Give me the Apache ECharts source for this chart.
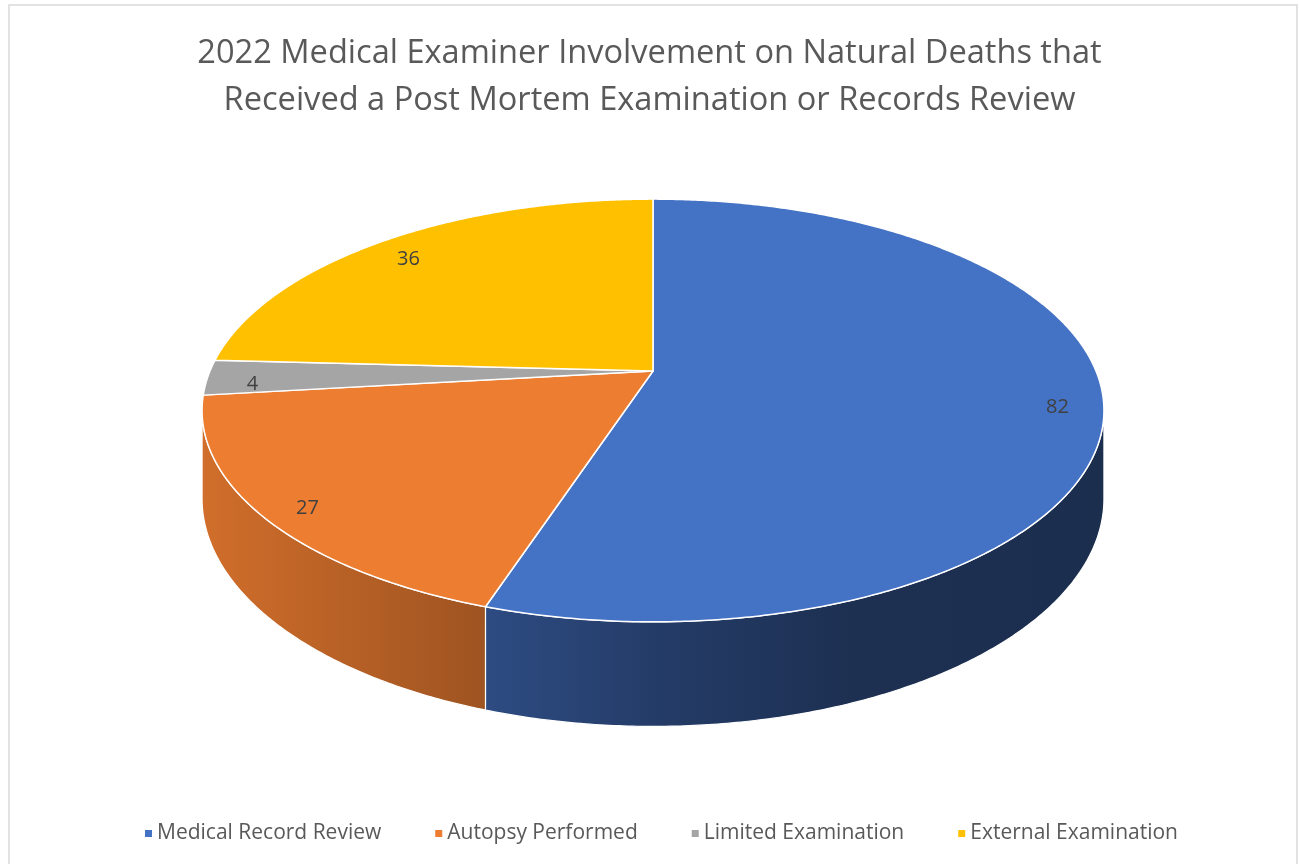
<!DOCTYPE html>
<html>
<head>
<meta charset="utf-8">
<script src="https://cdn.jsdelivr.net/npm/echarts@6/dist/echarts.min.js"></script>
<style>
html,body{margin:0;padding:0;background:#fff;}
#chart{width:1299px;height:864px;}
</style>
</head>
<body>
<div id="chart"></div>
<script>
// ---- data ----
const categories = ['Medical Record Review', 'Autopsy Performed', 'Limited Examination', 'External Examination'];
const values = [82, 27, 4, 36];
const colors = ['#4472C4', '#ED7D31', '#A5A5A5', '#FFC000'];
const titleText = '2022 Medical Examiner Involvement on Natural Deaths that\nReceived a Post Mortem Examination or Records Review';

// ---- 3D pie layout (perspective projection of a disc) ----
const CX = 653, APEX_Y = 371, RX = 443, RY = 204, K = 0.1868, DEPTH = 85;
const total = values.reduce((s, v) => s + v, 0);
function startAngle(i) { let s = 0; for (let j = 0; j < i; j++) s += values[j]; return s / total * 360; }
function proj(phiDeg, r, z) {
  const p = phiDeg * Math.PI / 180;
  const u = Math.sin(p) * r, v = -Math.cos(p) * r;
  const w = 1 - K * v;
  return [CX + RX * u / w, APEX_Y + (RY * v + z * DEPTH) / w];
}
function shade(hex, m) {
  const n = parseInt(hex.slice(1), 16);
  const r = Math.round(((n >> 16) & 255) * m), g = Math.round(((n >> 8) & 255) * m), b = Math.round((n & 255) * m);
  return 'rgb(' + r + ',' + g + ',' + b + ')';
}
const SHADE_T = [0, 0.31, 0.5, 0.72, 1];
const SHADE_M = [0.88, 0.67, 0.53, 0.42, 0.40];
const visA = Math.acos(-K) * 180 / Math.PI;
const visB = 360 - visA;

function renderSide(params, api) {
  const i = params.dataIndex;
  const a0 = startAngle(i), a1 = a0 + api.value(0) / total * 360;
  const s = Math.max(a0, visA), e = Math.min(a1, visB);
  if (e <= s) return { type: 'group', children: [] };
  const pts = [];
  const n = Math.max(2, Math.ceil((e - s) / 0.5));
  for (let k = 0; k <= n; k++) pts.push(proj(s + (e - s) * k / n, 1, 0));
  for (let k = n; k >= 0; k--) pts.push(proj(s + (e - s) * k / n, 1, 1));
  const xL = CX - RX * 1.018, xR = CX + RX * 1.018;
  const stops = SHADE_T.map((t, j) => ({ offset: t, color: shade(colors[i], SHADE_M[j]) }));
  return {
    type: 'polygon',
    shape: { points: pts },
    style: { fill: new echarts.graphic.LinearGradient(xL, 0, xR, 0, stops, true), stroke: '#ffffff', lineWidth: 1.2 }
  };
}

function makeTopRenderer(i) {
  return function (params, api) {
    const a0 = startAngle(i), a1 = a0 + api.value(0) / total * 360;
    const pts = [proj(0, 0, 0)];
    const n = Math.max(2, Math.ceil((a1 - a0) / 0.5));
    for (let k = 0; k <= n; k++) pts.push(proj(a0 + (a1 - a0) * k / n, 1, 0));
    const mid = (a0 + a1) / 2;
    const lp = proj(mid, 0.9, 0);
    return {
      type: 'group',
      children: [
        { type: 'polygon', shape: { points: pts }, style: { fill: colors[i], stroke: '#ffffff', lineWidth: 1.5, lineJoin: 'round' } },
        { type: 'text', x: lp[0], y: lp[1] + 7, style: { text: String(api.value(0)), fill: '#404040', font: '20px "Open Sans"', align: 'center', verticalAlign: 'middle' } }
      ]
    };
  };
}

const series = [{
  type: 'custom', name: '_sides', coordinateSystem: 'none', z: 1, silent: true,
  data: values, renderItem: renderSide
}];
categories.forEach((c, i) => {
  series.push({
    type: 'custom', name: c, coordinateSystem: 'none', z: 2, silent: true,
    itemStyle: { color: colors[i] },
    data: [values[i]], renderItem: makeTopRenderer(i)
  });
});

const chart = echarts.init(document.getElementById('chart'), null, { renderer: 'canvas' });
chart.setOption({
  backgroundColor: '#ffffff',
  animation: false,
  color: colors,
  title: {
    text: titleText, left: 'center', top: 25,
    textStyle: { fontFamily: 'Open Sans', fontSize: 32.6, fontWeight: 'normal', color: '#595959', lineHeight: 47 }
  },
  legend: {
    data: categories, bottom: 15, left: 140, icon: 'rect', itemWidth: 7, itemHeight: 7, itemGap: 54,
    selectedMode: false,
    textStyle: { fontFamily: 'Open Sans', fontSize: 21, color: '#595959' }
  },
  graphic: [{
    type: 'rect', shape: { x: 9, y: 5, width: 1288, height: 880 },
    style: { fill: 'none', stroke: '#D9D9D9', lineWidth: 1.5 }, silent: true
  }],
  series: series
});
</script>
</body>
</html>
